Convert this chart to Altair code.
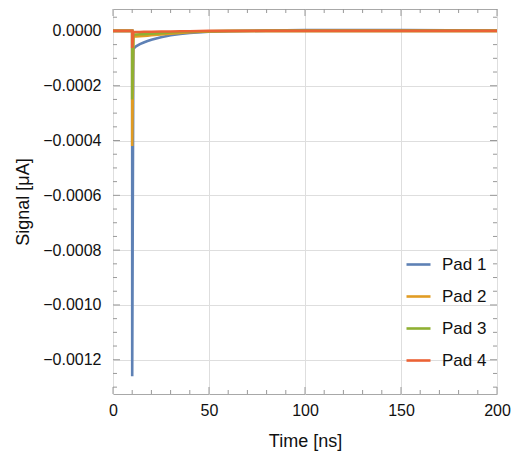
import altair as alt
import pandas as pd

# ---- data ----
pads = ["Pad 1", "Pad 2", "Pad 3", "Pad 4"]
colors = ["#5E81B5", "#E19C24", "#8FB032", "#EB6235"]

times = [0, 10, 10, 10.6, 12, 14, 16, 18, 20, 25, 30, 35, 40, 50, 60, 80, 100, 120, 150, 175, 200]
pad1 = [0, 0, -0.00126, -0.000065, -0.000056, -0.000048, -0.000042, -0.000037, -0.000032, -0.000023,
        -0.000016, -0.000011, -0.000007, -0.000003, -0.000001, 0.000001, 0.000003, 0.000003, 0.000003, 0.000002, 0.000001]
pad2 = [0, 0, -0.00042, -0.00002, -0.00002, -0.000019, -0.000018, -0.000017, -0.000016, -0.000013,
        -0.00001, -0.000007, -0.000005, -0.000002, -0.000001, 0, 0, 0, 0, 0, 0]
pad3 = [0, 0, -0.00025, -0.000013, -0.000013, -0.000012, -0.000012, -0.000011, -0.00001, -0.000008,
        -0.000006, -0.000004, -0.000003, -0.000001, 0, 0, 0, 0, 0, 0, 0]
pad4 = [0, 0, -0.000062, -0.000004, -0.000004, -0.000004, -0.000003, -0.000003, -0.000003, -0.000002,
        -0.000002, -0.000001, -0.000001, 0, 0, 0, 0, 0, 0, 0, 0]

x_major = [0, 50, 100, 150, 200]
x_minor = [10, 20, 30, 40, 60, 70, 80, 90, 110, 120, 130, 140, 160, 170, 180, 190]
y_major = [-0.0012, -0.0010, -0.0008, -0.0006, -0.0004, -0.0002, 0.0]
y_minor = [-0.0013, -0.00125, -0.00115, -0.0011, -0.00105, -0.00095, -0.0009, -0.00085,
           -0.00075, -0.0007, -0.00065, -0.00055, -0.0005, -0.00045, -0.00035, -0.0003,
           -0.00025, -0.00015, -0.0001, -0.00005, 0.00005]

X_DOMAIN = [0, 200]
Y_DOMAIN = [-0.001325, 0.00008]
W, H = 384, 385

rows = []
for pad, vals in zip(pads, [pad1, pad2, pad3, pad4]):
    for i, (t, v) in enumerate(zip(times, vals)):
        rows.append({"pad": pad, "t": t, "v": v, "i": i})
df = pd.DataFrame(rows)

xs = alt.Scale(domain=X_DOMAIN, nice=False, zero=False)
ys = alt.Scale(domain=Y_DOMAIN, nice=False, zero=False)
xaxis = alt.Axis(values=x_major, title="Time [ns]", format="d", labelFlush=False)
yaxis = alt.Axis(values=y_major, title="Signal [μA]", format=".4f", labelFlush=False)

lines = alt.Chart(df).mark_line(strokeWidth=2.6, clip=True).encode(
    x=alt.X("t:Q", scale=xs, axis=xaxis),
    y=alt.Y("v:Q", scale=ys, axis=yaxis),
    color=alt.Color("pad:N", scale=alt.Scale(domain=pads, range=colors),
                    legend=alt.Legend(orient="none", legendX=292, legendY=242, title=None,
                                      symbolType="stroke", symbolSize=576, symbolStrokeWidth=2.6,
                                      labelFontSize=17, labelOffset=10, rowPadding=10,
                                      labelFont="Liberation Sans", labelColor="#111",
                                      padding=0)),
    order=alt.Order("i:Q"),
)

tick_col = "#999999"

def xticks(vals, length):
    d = pd.DataFrame({"t": vals})
    base = alt.Chart(d).mark_rule(color=tick_col, strokeWidth=1)
    bot = base.encode(x=alt.X("t:Q", scale=xs, axis=xaxis), y=alt.value(H), y2=alt.value(H - length))
    top = base.encode(x=alt.X("t:Q", scale=xs, axis=xaxis), y=alt.value(0), y2=alt.value(length))
    return [bot, top]

def yticks(vals, length):
    d = pd.DataFrame({"v": vals})
    base = alt.Chart(d).mark_rule(color=tick_col, strokeWidth=1)
    left = base.encode(y=alt.Y("v:Q", scale=ys, axis=yaxis), x=alt.value(0), x2=alt.value(length))
    right = base.encode(y=alt.Y("v:Q", scale=ys, axis=yaxis), x=alt.value(W), x2=alt.value(W - length))
    return [left, right]

tick_layers = xticks(x_major, 7) + xticks(x_minor, 4) + yticks(y_major, 7) + yticks(y_minor, 4)

chart = alt.layer(*tick_layers, lines).properties(
    width=W, height=H,
    autosize=alt.AutoSizeParams(type="none"),
    padding={"left": 113, "top": 9, "right": 15, "bottom": 61},
).configure_view(
    stroke="#a8a8a8", strokeWidth=1
).configure_axis(
    grid=True, gridColor="#dedede", gridWidth=1, domain=False, ticks=False,
    labelFont="Liberation Sans", labelFontSize=16, labelColor="#111",
    titleFont="Liberation Sans", titleFontSize=18, titleFontWeight="normal", titleColor="#111",
).configure_axisX(
    labelPadding=8, titlePadding=14
).configure_axisY(
    labelPadding=12, titlePadding=10
)

chart.save("out.html", embed_options={"renderer": "svg", "actions": False})
